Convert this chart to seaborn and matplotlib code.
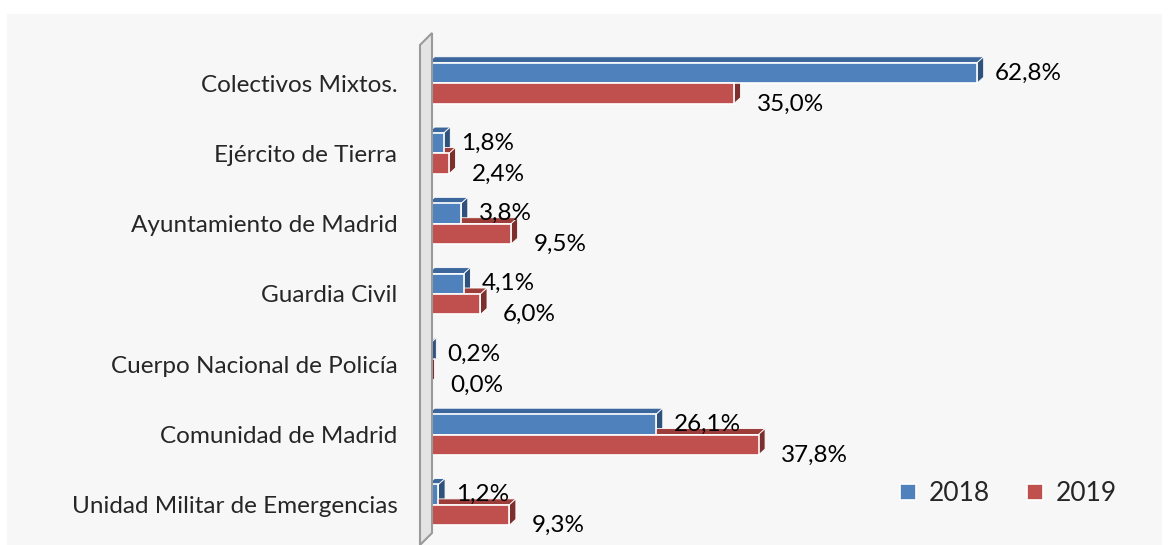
import pandas as pd
import numpy as np
import matplotlib
matplotlib.use('Agg')
import matplotlib.pyplot as plt
from matplotlib.patches import Polygon, Rectangle
import seaborn as sns

categorias = ["Colectivos Mixtos.", "Ejército de Tierra", "Ayuntamiento de Madrid",
              "Guardia Civil", "Cuerpo Nacional de Policía", "Comunidad de Madrid",
              "Unidad Militar de Emergencias"]
v2018 = [62.8, 1.8, 3.8, 4.1, 0.2, 26.1, 1.2]
v2019 = [35.0, 2.4, 9.5, 6.0, 0.0, 37.8, 9.3]
anios = ["2018", "2019"]

df = pd.DataFrame({
    'categoria': categorias * 2,
    'valor': v2018 + v2019,
    'anio': [anios[0]] * len(categorias) + [anios[1]] * len(categorias),
})

azul, rojo = '#4f81bd', '#c0504d'
lado = {azul: '#2f527d', rojo: '#7d2f2d'}
techo = {azul: '#3c679c', rojo: '#9c3d3a'}

sns.set_style('white')
plt.rcParams['font.family'] = ['Lato', 'DejaVu Sans']

W, H = 1169, 545
fig = plt.figure(figsize=(W / 100, H / 100), dpi=100)
fig.patch.set_facecolor('white')
fig.patches.append(Rectangle((7 / W, 0), (1162 - 7) / W, (H - 14) / H,
                             transform=fig.transFigure, facecolor='#f7f7f7',
                             edgecolor='none', zorder=-10))

ax = fig.add_axes([428 / W, 5 / H, (1110 - 428) / W, (497 - 5) / H])
ax.set_facecolor('none')

sns.barplot(data=df, x='valor', y='categoria', hue='anio', orient='h',
            palette=[azul, rojo], width=0.58, saturation=1,
            edgecolor='white', linewidth=1.2, ax=ax, zorder=3)

ax.set_xlim(0, 78)
ax.set_ylim(6.5, -0.5)

# caras 3D de las barras
dx, dy = 0.75, 0.085
barras = [p for p in ax.patches if isinstance(p, Rectangle)]
valores = v2018 + v2019
for i, (p, v) in enumerate(zip(barras, valores)):
    x0, y0, w, h = p.get_x(), p.get_y(), p.get_width(), p.get_height()
    c = azul if i < len(categorias) else rojo
    top = Polygon([(x0, y0), (x0 + w, y0), (x0 + w + dx, y0 - dy), (x0 + dx, y0 - dy)],
                  closed=True, facecolor=techo[c], edgecolor='white', lw=0.6, zorder=2)
    side = Polygon([(x0 + w, y0), (x0 + w + dx, y0 - dy), (x0 + w + dx, y0 + h - dy), (x0 + w, y0 + h)],
                   closed=True, facecolor=lado[c], edgecolor='white', lw=0.6, zorder=2)
    ax.add_patch(top)
    ax.add_patch(side)
    txt = f"{v:.1f}".replace('.', ',') + '%'
    yc = y0 + h / 2
    if i < len(categorias):
        ax.text(x0 + w + 2.0, yc, txt, va='center', ha='left', fontsize=17.5, color='black')
    else:
        ax.text(x0 + w + 2.6, yc + 0.15, txt, va='center', ha='left', fontsize=17.5, color='black')

# pared vertical
px = lambda x: x / W
py = lambda y: 1 - y / H
pared = Polygon([(px(420), py(545)), (px(420), py(45)), (px(432), py(33)), (px(432), py(533))],
                closed=True, transform=fig.transFigure, facecolor='#e4e4e4',
                edgecolor='#9a9a9a', lw=1.5, zorder=1)
fig.patches.append(pared)

for s in ax.spines.values():
    s.set_visible(False)
ax.set_xticks([])
ax.set_xlabel('')
ax.set_ylabel('')
ax.tick_params(axis='y', length=0, pad=22, labelsize=17.5)

leg = ax.legend(loc='lower right', bbox_to_anchor=(1.045, 0.02), ncol=2, frameon=False,
                fontsize=19, handlelength=0.6, handleheight=0.6, handletextpad=0.5,
                columnspacing=1.4)

fig.savefig('out.png', dpi=100, facecolor=fig.get_facecolor())
